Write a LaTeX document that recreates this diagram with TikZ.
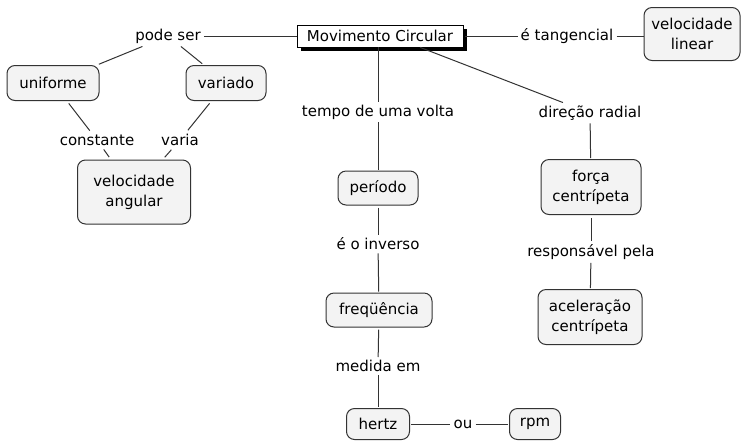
\documentclass[tikz,border=0pt]{standalone}
\usepackage{fontspec}
\setmainfont{DejaVu Sans}
\usetikzlibrary{shadows}
\definecolor{boxfill}{HTML}{F3F3F3}
\definecolor{linec}{HTML}{333333}
\tikzset{
  fnt/.style={font=\fontsize{15}{20}\selectfont},
  concept/.style={fnt, draw=linec, fill=boxfill, rounded corners=8pt, line width=1pt, align=center, inner sep=2pt},
  lbl/.style={fnt, inner sep=3pt},
  mainbox/.style={fnt, draw=black, fill=white, line width=0.7pt, inner sep=2pt, drop shadow={shadow xshift=4pt, shadow yshift=-4pt, opacity=1, fill=black}},
  conn/.style={draw=linec, line width=1pt}
}
\begin{document}
\begin{tikzpicture}[x=1pt,y=-1pt]
\useasboundingbox (0,0) rectangle (743,440);
\node[mainbox, minimum width=166pt, minimum height=22pt] (mc) at (380,36) {Movimento Circular};
\node[lbl] (ps) at (168,36) {pode ser};
\node[lbl] (tg) at (567,36) {é tangencial};
\node[concept, minimum width=96pt, minimum height=53pt] (vl) at (692,34) {velocidade\\linear};
\node[concept, minimum width=92pt, minimum height=35pt] (un) at (53,83) {uniforme};
\node[concept, minimum width=80pt, minimum height=35pt] (va) at (226,83) {variado};
\node[lbl] (ct) at (97,140) {constante};
\node[lbl] (vr) at (180,140) {varia};
\node[concept, minimum width=113pt, minimum height=64pt] (vang) at (134,192) {velocidade\\angular};
\node[lbl] (tv) at (378,112) {tempo de uma volta};
\node[concept, minimum width=80pt, minimum height=34pt] (per) at (378,188) {período};
\node[lbl] (inv) at (378,244) {é o inverso};
\node[concept, minimum width=106pt, minimum height=34pt] (fr) at (379,310) {freqüência};
\node[lbl] (me) at (378,366) {medida em};
\node[concept, minimum width=63pt, minimum height=31pt] (hz) at (378,424) {hertz};
\node[lbl] (ou) at (463,424) {ou};
\node[concept, minimum width=51pt, minimum height=31pt] (rpm) at (535,424) {rpm};
\node[lbl] (dr) at (590,113) {direção radial};
\node[concept, minimum width=100pt, minimum height=55pt] (fc) at (591,187) {força\\centrípeta};
\node[lbl] (rp) at (591,252) {responsável pela};
\node[concept, minimum width=104pt, minimum height=55pt] (ac) at (590,317) {aceleração\\centrípeta};
% connectors
\draw[conn] (ps) -- (mc);
\draw[conn, shorten >=2pt] (ps) -- (un);
\draw[conn, shorten >=2pt] (ps) -- (va);
\draw[conn, shorten <=3pt, shorten >=1pt] (un) -- (ct);
\draw[conn, shorten >=3pt, shorten <=1pt] (ct) -- (vang);
\draw[conn, shorten <=3pt, shorten >=1pt] (va) -- (vr);
\draw[conn, shorten >=3pt, shorten <=1pt] (vr) -- (vang);
\draw[conn, shorten <=2pt] (mc) -- (tg);
\draw[conn] (tg) -- (tg -| vl.west);
\draw[conn] (mc.south -| tv) -- (tv);
\draw[conn, shorten >=1pt] (tv) -- (per);
\draw[conn, shorten <=2pt] (per) -- (inv);
\draw[conn, shorten >=1pt] (inv) -- (fr);
\draw[conn, shorten <=2pt] (fr) -- (me);
\draw[conn, shorten >=1pt] (me) -- (hz);
\draw[conn, shorten <=1pt] (hz) -- (ou);
\draw[conn, shorten >=1pt] (ou) -- (rpm);
\draw[conn] ([xshift=40pt]mc.south) -- (dr);
\draw[conn, shorten >=1pt] (dr) -- (fc);
\draw[conn, shorten <=3pt] (fc) -- (rp);
\draw[conn, shorten >=1pt] (rp) -- (ac);
\end{tikzpicture}
\end{document}
